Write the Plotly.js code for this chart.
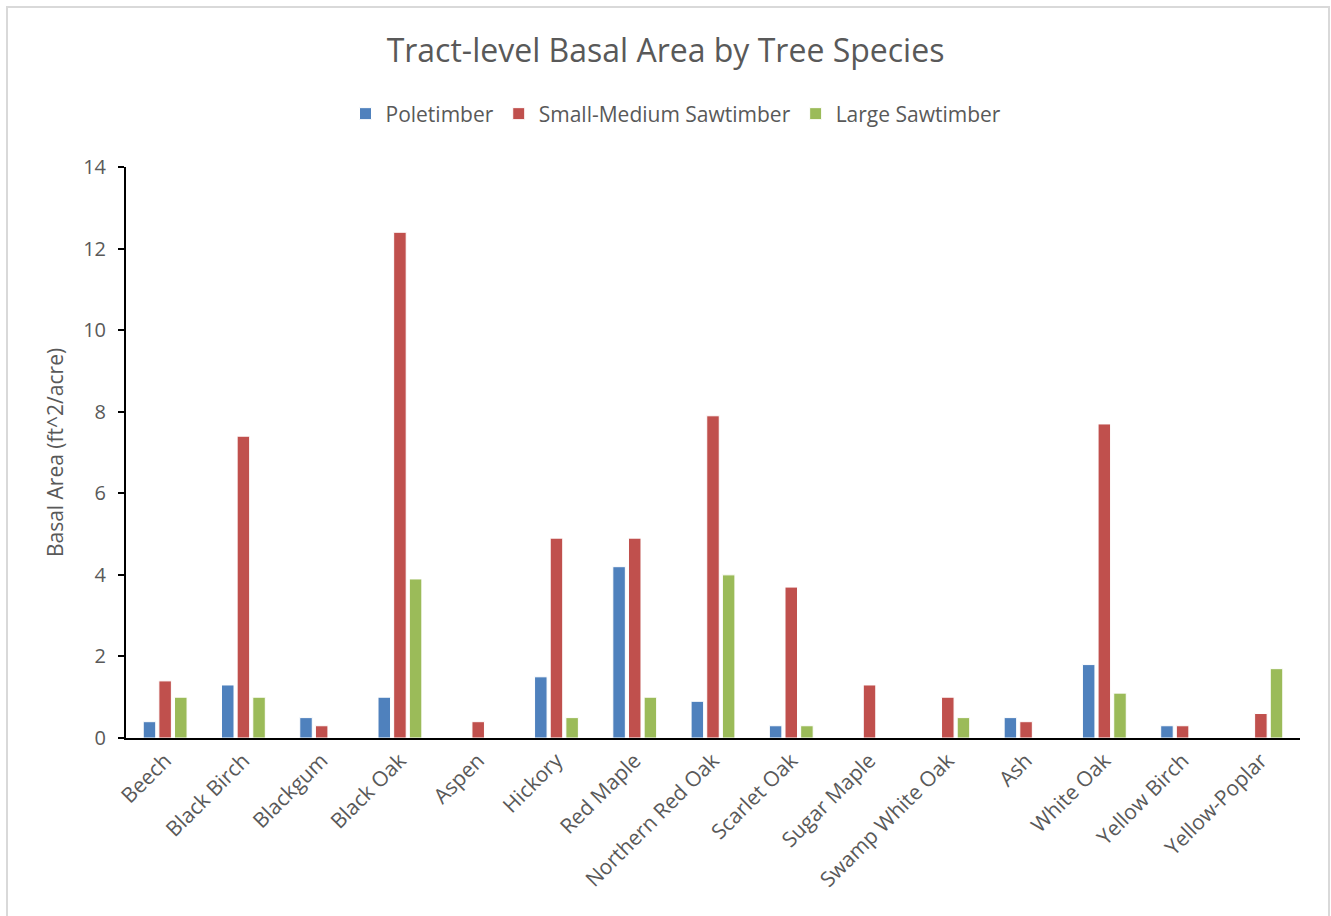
<!DOCTYPE html>
<html>
<head>
<meta charset="utf-8">
<script src="https://cdn.plot.ly/plotly-3.0.1.min.js"></script>
<style>html,body{margin:0;padding:0;background:#fff;}#chart{width:1331px;height:916px;}</style>
</head>
<body>
<div id="chart"></div>
<script>
const species = ["Beech","Black Birch","Blackgum","Black Oak","Aspen","Hickory","Red Maple","Northern Red Oak","Scarlet Oak","Sugar Maple","Swamp White Oak","Ash","White Oak","Yellow Birch","Yellow-Poplar"];
const poletimber = [0.4,1.3,0.5,1.0,0,1.5,4.2,0.9,0.3,0,0,0.5,1.8,0.3,0];
const smallMediumSawtimber = [1.4,7.4,0.3,12.4,0.4,4.9,4.9,7.9,3.7,1.3,1.0,0.4,7.7,0.3,0.6];
const largeSawtimber = [1.0,1.0,0,3.9,0,0.5,1.0,4.0,0.3,0,0.5,0,1.1,0,1.7];
const yTicks = [0,2,4,6,8,10,12,14];

const W = 1331, H = 916;
const L = 126, R = 31, T = 167, B = 178;
const pw = W - L - R, ph = H - T - B;
const px = v => (v - L) / pw;
const py = v => (H - B - v) / ph;

const font = "'Open Sans', 'Noto Sans', 'Liberation Sans', sans-serif";
const gray = "#595959";

function mk(name, y, color) {
  return {type: "bar", name: name, x: species, y: y,
    marker: {color: color, line: {color: "#ffffff", width: 1}}, hoverinfo: "x+y+name"};
}
const data = [
  mk("Poletimber", poletimber, "#4f81bd"),
  mk("Small-Medium Sawtimber", smallMediumSawtimber, "#c0504d"),
  mk("Large Sawtimber", largeSawtimber, "#9bbb59")
];

const layout = {
  width: W, height: H,
  margin: {l: L, r: R, t: T, b: B, pad: 0},
  paper_bgcolor: "#ffffff", plot_bgcolor: "#ffffff",
  font: {family: font, color: gray, size: 20},
  title: {text: "Tract-level Basal Area by Tree Species", font: {family: font, size: 32, color: gray},
    x: 0.5, xanchor: "center", y: 1 - 51/H, yanchor: "middle"},
  showlegend: true,
  legend: {orientation: "h", x: px(676), xanchor: "center", y: py(114), yanchor: "middle",
    font: {family: font, size: 21, color: gray}, itemwidth: 30, traceorder: "normal"},
  barmode: "group", bargap: 0.4, bargroupgap: 0.2,
  xaxis: {type: "category", tickangle: -45, showgrid: false, zeroline: false,
    showline: true, linecolor: "#000000", linewidth: 2, ticks: "",
    tickfont: {family: font, size: 21, color: gray}, fixedrange: true},
  yaxis: {range: [0, 14], tickvals: yTicks, ticktext: yTicks.map(String), showgrid: false, zeroline: false,
    showline: true, linecolor: "#000000", linewidth: 2, ticks: "outside", ticklen: 6, tickwidth: 2, tickcolor: "#000000",
    ticklabelstandoff: 8,
    tickfont: {family: font, size: 20, color: gray},
    title: {text: "Basal Area (ft^2/acre)", font: {family: font, size: 21, color: gray}, standoff: 14},
    fixedrange: true},
  shapes: [
    {type: "rect", xref: "paper", yref: "paper", x0: px(7), x1: px(1329), y0: py(7), y1: py(930),
      line: {color: "#d9d9d9", width: 2}, fillcolor: "rgba(0,0,0,0)", layer: "below"}
  ]
};

Plotly.newPlot("chart", data, layout, {displayModeBar: false, staticPlot: true});
</script>
</body>
</html>
